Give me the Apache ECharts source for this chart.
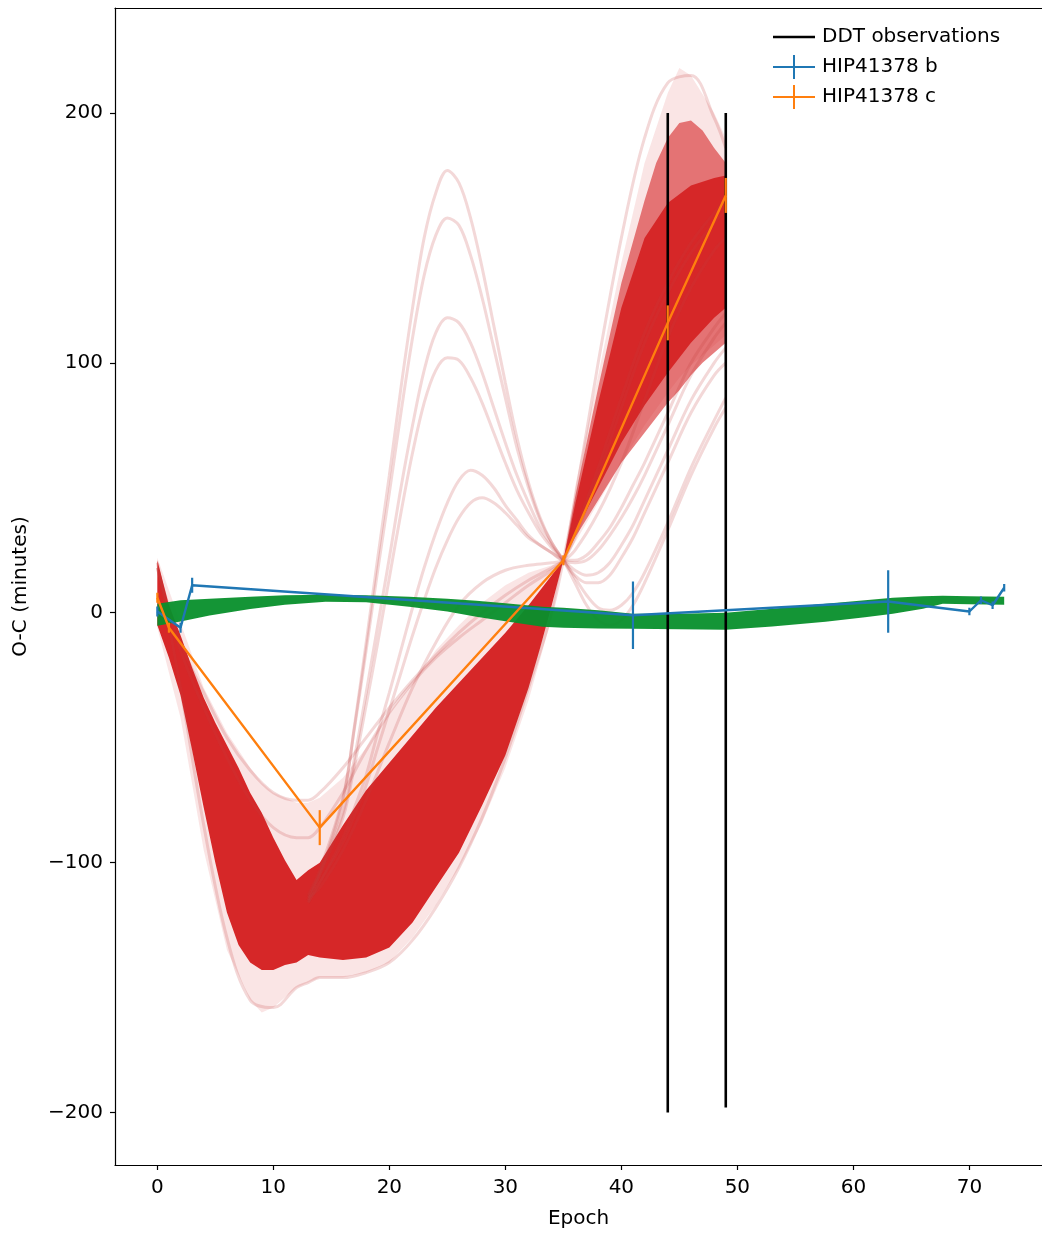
<!DOCTYPE html>
<html>
<head>
<meta charset="utf-8">
<script src="https://cdn.jsdelivr.net/npm/echarts@6/dist/echarts.min.js"></script>
<style>
  html, body { margin: 0; padding: 0; background: #ffffff; }
  #chart { width: 1042px; height: 1234px; }
</style>
</head>
<body>
<div id="chart"></div>
<script>
// ---- Observed transit timings (O-C, minutes) ----
const bEpoch = [0, 2, 3, 41, 63, 70, 71, 72, 73];
const bOC    = [0.5, -6, 11, -1, 4.5, 0.5, 5, 3, 10];
const bErr   = [2, 2, 3, 13.5, 12.5, 1.5, 1.5, 1.5, 1.5];

const cEpoch = [0, 1, 14, 35, 44, 49];
const cOC    = [6, -6, -86, 21, 116, 167];
const cErr   = [2, 2, 7, 2, 7, 7];

// ---- DDT observation windows ----
const ddtEpoch = [44, 49];
const ddtLow   = [-200, -198];
const ddtHigh  = [200, 200];

// ---- Posterior model band for planet c (dense core) ----
const cBandEpoch = [0, 1, 2, 3, 4, 5, 6, 7, 8, 9, 10, 11, 12, 13, 14, 16, 18, 20, 22, 24, 26, 28, 30, 32, 33, 34, 35, 36, 38, 40, 42, 44, 46, 48, 49];
const cBandUpper = [21, 3, -9, -22, -34, -44, -53, -62, -72, -80, -90, -99, -107, -103, -100, -85, -71, -60, -49, -38, -28, -18, -8, 3, 9, 15, 21, 43, 84, 122, 150, 164, 171, 174, 175];
const cBandLower = [-5, -18, -33, -55, -78, -100, -120, -133, -140, -143, -143, -141, -140, -137, -138, -139, -138, -134, -124, -110, -96, -77, -57, -30, -14, 3, 21, 32, 50, 68, 83, 96, 108, 118, 122];

// ---- Posterior model band for planet c (medium density, after epoch 35) ----
const cMidEpoch = [35, 36, 38, 40, 42, 43, 44, 45, 46, 47, 48, 49];
const cMidUpper = [21, 46, 90, 132, 165, 180, 190, 196, 197, 193, 186, 180];
const cMidLower = [21, 30, 45, 60, 72, 78, 84, 89, 95, 100, 104, 108];

// ---- Posterior model band for planet c (faint outer envelope) ----
const cHaloEpoch = [0, 2, 4, 6, 8, 9, 10, 12, 13, 14, 16, 18, 20, 22, 24, 26, 28, 30, 32, 34, 35, 36, 38, 40, 42, 44, 45, 46, 48, 49];
const cHaloUpper = [22, -4, -30, -48, -62, -68, -72, -76, -76, -74, -66, -54, -40, -28, -15, -5, 4, 11, 16, 19, 21, 50, 95, 140, 180, 208, 218, 215, 200, 190];
const cHaloLower = [-6, -42, -95, -135, -155, -160, -158, -150, -148, -146, -146, -144, -140, -130, -117, -102, -84, -62, -35, -2, 21, 28, 44, 60, 75, 88, 94, 99, 107, 111];

// ---- Individual outlying posterior draws for planet c ----
const drawHighEpoch = [13, 14, 16, 17, 18, 19, 20, 21, 22, 23, 24, 25, 26, 27, 28, 29, 30, 31, 32, 33, 34, 35, 36, 37, 38, 39, 40, 41, 42, 44, 46, 48, 49];
const drawHigh1 = [-115, -105, -75, -45, -12, 22, 55, 90, 122, 150, 168, 177, 172, 158, 138, 115, 92, 70, 52, 38, 28, 21, 12, 3, -3, -5, -3, 3, 12, 33, 55, 74, 82];
const drawHigh2 = [-113, -103, -74, -46, -15, 17, 48, 80, 110, 135, 151, 158, 155, 143, 126, 106, 86, 66, 50, 37, 28, 21, 14, 7, 2, 1, 3, 8, 16, 36, 58, 77, 86];
const drawMid1  = [-114, -104, -80, -58, -32, -5, 22, 50, 75, 97, 112, 118, 116, 108, 96, 82, 68, 55, 44, 34, 27, 21, 15, 12, 12, 15, 22, 30, 40, 60, 80, 95, 100];
const drawMid2  = [-115, -105, -82, -61, -37, -12, 14, 40, 64, 84, 97, 102, 101, 94, 84, 72, 60, 49, 40, 32, 26, 21, 17, 15, 16, 20, 27, 35, 45, 65, 85, 100, 106];
const drawLow1  = [-116, -108, -90, -78, -65, -48, -32, -15, 2, 18, 32, 44, 53, 57, 55, 50, 43, 37, 31, 27, 24, 21, 20, 21, 25, 31, 38, 46, 55, 75, 95, 110, 116];
const drawLow2  = [-116, -108, -92, -81, -69, -54, -39, -24, -9, 5, 18, 29, 38, 44, 46, 44, 40, 35, 30, 27, 24, 21, 21, 23, 28, 34, 42, 51, 60, 80, 100, 114, 120];

const drawFlatEpoch = [0, 2, 4, 6, 8, 10, 12, 13, 14, 16, 18, 20, 22, 24, 26, 28, 30, 32, 34, 35, 36, 38, 40, 42, 44, 46, 48, 49];
const drawShallow1 = [18, -15, -38, -58, -75, -86, -90, -90, -86, -72, -55, -40, -28, -18, -10, -3, 4, 11, 17, 21, 32, 58, 86, 112, 132, 148, 160, 165];
const drawShallow2 = [18, -12, -32, -50, -63, -72, -75, -75, -72, -62, -50, -38, -27, -17, -8, 0, 7, 13, 18, 21, 30, 55, 82, 108, 128, 144, 156, 161];
const drawDeep     = [20, -30, -85, -130, -155, -158, -150, -148, -146, -146, -144, -140, -131, -118, -102, -82, -58, -30, 0, 21, 45, 100, 150, 190, 212, 215, 198, 186];

const drawPlateauEpoch = [13, 14, 16, 18, 20, 22, 24, 26, 28, 30, 32, 34, 35, 36, 38, 40, 42, 44, 46, 48, 49];
const drawPlateau = [-114, -110, -95, -75, -52, -30, -12, 3, 12, 17, 19, 20, 21, 25, 40, 60, 85, 110, 130, 145, 150];

// ---- Posterior model band for planet b ----
const bBandEpoch = [0, 2, 4.5, 8, 11, 14.5, 18, 21.7, 25, 27.5, 30, 33.2, 35, 38, 41, 45, 49, 53, 57.6, 61, 63.4, 66, 67.7, 70, 73];
const bBandUpper = [3.6, 5, 5.6, 6.4, 7, 7.2, 7, 6.4, 5.6, 4.8, 3.8, 2.4, 2, 1, -0.4, -0.4, 0, 1.6, 3.6, 5, 6, 6.6, 6.8, 6.6, 6.4];
const bBandLower = [-5.2, -3.5, -1.1, 1.5, 3.2, 4.4, 4.2, 2.4, 0.5, -1.6, -3.4, -5.6, -6, -6.3, -6.4, -6.6, -6.8, -5.5, -3.6, -1.8, -0.4, 1.6, 3.6, 3.4, 3.2];

// ---- Axis ticks ----
const xTicks = [0, 10, 20, 30, 40, 50, 60, 70];
const yTicks = [-200, -100, 0, 100, 200];

const FONT = 'DejaVu Sans';
const BLUE = '#1f77b4', ORANGE = '#ff7f0e', RED = '#d62728', GREEN = '#078f2b';

function zip(xs, ys) { return xs.map((x, i) => [x, ys[i]]); }

function bandSeries(xs, up, lo, color, opacity, z) {
  return {
    type: 'custom', silent: true, z: z, data: [[xs[0], up[0]]],
    renderItem: function (params, api) {
      const pts = [];
      for (let i = 0; i < xs.length; i++) pts.push(api.coord([xs[i], up[i]]));
      for (let i = xs.length - 1; i >= 0; i--) pts.push(api.coord([xs[i], lo[i]]));
      return { type: 'polygon', shape: { points: pts }, style: { fill: color, opacity: opacity } };
    }
  };
}

function drawSeries(xs, ys) {
  return {
    type: 'line', silent: true, z: 3, data: zip(xs, ys), smooth: 0.35,
    showSymbol: false, symbol: 'none',
    lineStyle: { color: '#c23b3d', width: 3, opacity: 0.2 }
  };
}

function errorSeries(name, xs, ys, es, color) {
  return {
    type: 'custom', name: name, z: 8, silent: true,
    itemStyle: { color: color },
    data: xs.map((x, i) => [x, ys[i], es[i]]),
    renderItem: function (params, api) {
      const x = api.value(0), y = api.value(1), e = api.value(2);
      const p1 = api.coord([x, y - e]);
      const p2 = api.coord([x, y + e]);
      return { type: 'line', shape: { x1: p1[0], y1: p1[1], x2: p2[0], y2: p2[1] },
               style: { stroke: color, lineWidth: 2.2 } };
    }
  };
}

const series = [
  bandSeries(cHaloEpoch, cHaloUpper, cHaloLower, RED, 0.12, 1),
  bandSeries(cMidEpoch, cMidUpper, cMidLower, RED, 0.6, 2),
  bandSeries(cBandEpoch, cBandUpper, cBandLower, RED, 1, 2),
  drawSeries(drawHighEpoch, drawHigh1),
  drawSeries(drawHighEpoch, drawHigh2),
  drawSeries(drawHighEpoch, drawMid1),
  drawSeries(drawHighEpoch, drawMid2),
  drawSeries(drawHighEpoch, drawLow1),
  drawSeries(drawHighEpoch, drawLow2),
  drawSeries(drawPlateauEpoch, drawPlateau),
  drawSeries(drawFlatEpoch, drawShallow1),
  drawSeries(drawFlatEpoch, drawShallow2),
  drawSeries(drawFlatEpoch, drawDeep),
  bandSeries(bBandEpoch, bBandUpper, bBandLower, GREEN, 0.95, 4),
  {
    type: 'custom', name: 'DDT observations', z: 5, silent: true,
    itemStyle: { color: '#000000' },
    data: ddtEpoch.map((x, i) => [x, ddtLow[i], ddtHigh[i]]),
    renderItem: function (params, api) {
      const x = api.value(0);
      const p1 = api.coord([x, api.value(1)]);
      const p2 = api.coord([x, api.value(2)]);
      return { type: 'line', shape: { x1: p1[0], y1: p1[1], x2: p2[0], y2: p2[1] },
               style: { stroke: '#000000', lineWidth: 2.6 } };
    }
  },
  {
    type: 'line', name: 'HIP41378 b', z: 7, data: zip(bEpoch, bOC),
    showSymbol: false, symbol: 'none', itemStyle: { color: BLUE },
    lineStyle: { color: BLUE, width: 2.4 }
  },
  errorSeries('HIP41378 b', bEpoch, bOC, bErr, BLUE),
  {
    type: 'line', name: 'HIP41378 c', z: 9, data: zip(cEpoch, cOC),
    showSymbol: false, symbol: 'none', itemStyle: { color: ORANGE },
    lineStyle: { color: ORANGE, width: 2.4 }
  },
  errorSeries('HIP41378 c', cEpoch, cOC, cErr, ORANGE)
];

const lineIcon  = 'path://M0,0L0,0Z M0,10.8L42,10.8L42,13.2L0,13.2Z M42,24L42,24Z';
const crossIcon = 'path://M0,10.9L42,10.9L42,13.1L0,13.1Z M20,0L22,0L22,24L20,24Z';

const X_MIN = -3.65, X_MAX = 76.26;
const axisText = { fontFamily: FONT, fontSize: 20, color: '#000000' };
const spine = { show: true, onZero: false, lineStyle: { color: '#000000', width: 1.2 } };

const chart = echarts.init(document.getElementById('chart'), null, { renderer: 'canvas' });
chart.setOption({
  animation: false,
  backgroundColor: '#ffffff',
  textStyle: { fontFamily: FONT },
  grid: { left: 115, top: 8, right: 0, height: 1159, show: false },
  legend: {
    left: 768, top: 20, orient: 'vertical',
    itemWidth: 42, itemHeight: 24, itemGap: 6,
    textStyle: Object.assign({ padding: [0, 0, 0, 2] }, axisText),
    data: [
      { name: 'DDT observations', icon: lineIcon },
      { name: 'HIP41378 b', icon: crossIcon },
      { name: 'HIP41378 c', icon: crossIcon }
    ]
  },
  xAxis: [{
    type: 'value', min: X_MIN, max: X_MAX, position: 'bottom',
    name: 'Epoch', nameLocation: 'middle', nameGap: 44,
    nameTextStyle: axisText,
    axisLine: spine,
    axisTick: { show: true, length: 5, inside: false, customValues: xTicks,
                lineStyle: { color: '#000000', width: 1.2 } },
    axisLabel: Object.assign({ customValues: xTicks, margin: 13 }, axisText),
    splitLine: { show: false }
  }, {
    type: 'value', min: X_MIN, max: X_MAX, position: 'top',
    axisLine: spine, axisTick: { show: false }, axisLabel: { show: false },
    splitLine: { show: false }
  }],
  yAxis: {
    type: 'value', min: -221, max: 242,
    name: 'O-C (minutes)', nameLocation: 'middle', nameGap: 84, nameRotate: 90,
    nameTextStyle: axisText,
    axisLine: spine,
    axisTick: { show: true, length: 5, inside: false, customValues: yTicks,
                lineStyle: { color: '#000000', width: 1.2 } },
    axisLabel: Object.assign({ customValues: yTicks, margin: 12,
                 formatter: v => (v < 0 ? '\u2212' + Math.abs(v) : String(v)) }, axisText),
    splitLine: { show: false }
  },
  series: series
});
</script>
</body>
</html>
